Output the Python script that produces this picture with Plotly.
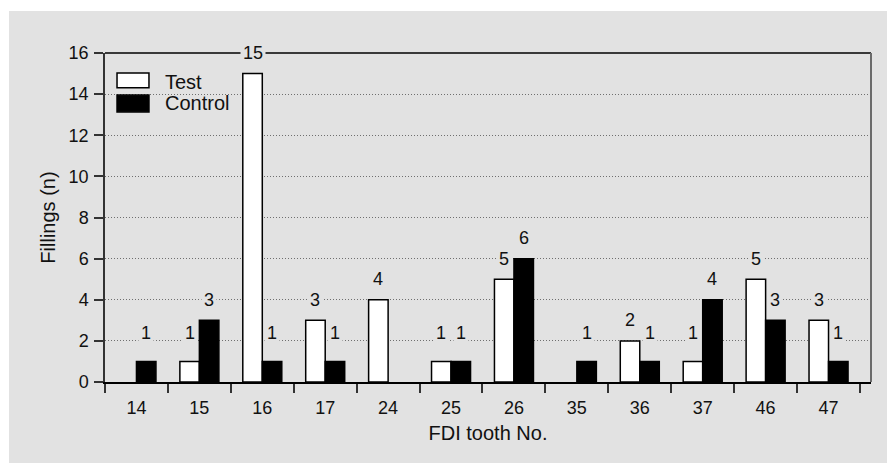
import plotly.graph_objects as go

teeth = ["14", "15", "16", "17", "24", "25", "26", "35", "36", "37", "46", "47"]
test_vals = [0, 1, 15, 3, 4, 1, 5, 0, 2, 1, 5, 3]
control_vals = [1, 3, 1, 1, 0, 1, 6, 1, 1, 4, 3, 1]
y_ticks = [0, 2, 4, 6, 8, 10, 12, 14, 16]

BG = "#e2e2e2"
FONT = "Liberation Sans, Arial, sans-serif"
BARGAP = 0.38
NUM = 18
WORD = 20


def outline(vals):
    return [1.5 if v > 0 else 0 for v in vals]


fig = go.Figure()
fig.add_trace(go.Bar(x=teeth, y=test_vals, name="Test",
                     marker=dict(color="white", line=dict(color="black", width=outline(test_vals))),
                     showlegend=False))
fig.add_trace(go.Bar(x=teeth, y=control_vals, name="Control",
                     marker=dict(color="black", line=dict(color="black", width=outline(control_vals))),
                     showlegend=False))

off = (1 - BARGAP) / 4
annots = []
for i, (t, c) in enumerate(zip(test_vals, control_vals)):
    for v, dx in ((t, -off), (c, off)):
        if v > 0:
            annots.append(dict(x=i + dx, y=max(v + 1, 2.4), xref="x", yref="y",
                               text=str(v), showarrow=False, bgcolor=BG,
                               borderpad=2, font=dict(size=NUM, color="#111", family=FONT),
                               yanchor="middle"))

# manual legend
annots.append(dict(x=0.0757, y=0.912, xref="paper", yref="paper", text="Test",
                   showarrow=False, xanchor="left", yanchor="middle",
                   font=dict(size=WORD, color="#111", family=FONT)))
annots.append(dict(x=0.0757, y=0.848, xref="paper", yref="paper", text="Control",
                   showarrow=False, xanchor="left", yanchor="middle",
                   font=dict(size=WORD, color="#111", family=FONT)))

shapes = [
    dict(type="rect", xref="paper", yref="paper", x0=-0.1253, x1=1.05, y0=-0.3, y1=1.1277,
         fillcolor=BG, line=dict(width=0), layer="below"),
    dict(type="line", xref="paper", yref="paper", x0=0, x1=1, y0=1, y1=1,
         line=dict(color="black", width=1.5)),
    dict(type="line", xref="paper", yref="paper", x0=1, x1=1, y0=0, y1=1,
         line=dict(color="#6a6a6a", width=2)),
    dict(type="rect", xref="paper", yref="paper", x0=0.0157, x1=0.0574, y0=0.894, y1=0.939,
         fillcolor="white", line=dict(color="black", width=1.5)),
    dict(type="rect", xref="paper", yref="paper", x0=0.0157, x1=0.0574, y0=0.821, y1=0.872,
         fillcolor="black", line=dict(color="black", width=1.5)),
]

fig.update_layout(
    width=887, height=455,
    margin=dict(l=97, r=24, t=45, b=81),
    paper_bgcolor="white", plot_bgcolor="rgba(0,0,0,0)",
    barmode="group", bargap=BARGAP, bargroupgap=0,
    font=dict(family=FONT, size=NUM, color="#111"),
    annotations=annots, shapes=shapes,
    xaxis=dict(type="category", range=[-0.5, 11.675], tickson="boundaries",
               ticks="outside", ticklen=9, tickwidth=1.5, tickcolor="#333",
               showline=True, linecolor="black", linewidth=1.5,
               showgrid=False, ticklabelstandoff=9,
               title=dict(text="FDI tooth No.", standoff=9, font=dict(size=WORD))),
    yaxis=dict(range=[0, 16], tickvals=y_ticks, ticks="outside", ticklen=9,
               tickwidth=1.5, tickcolor="#333", showline=True, linecolor="#333",
               linewidth=1.5, showgrid=True, gridcolor="#6f6f6f", griddash="1px,2px",
               gridwidth=1, zeroline=False, ticklabelstandoff=2,
               title=dict(text="Fillings (n)", standoff=8, font=dict(size=WORD))),
)

fig.write_html("out.html")
